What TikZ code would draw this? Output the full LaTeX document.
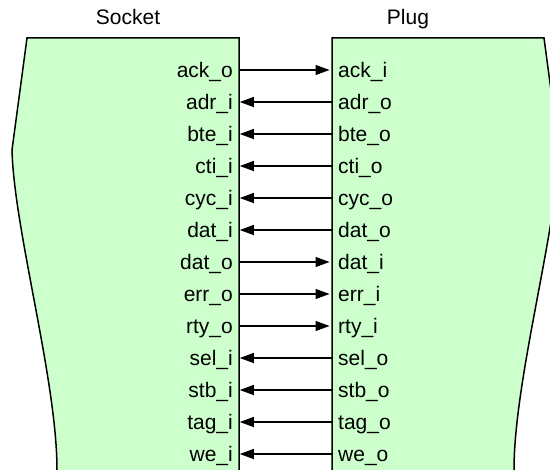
\documentclass[tikz,border=0pt]{standalone}
\usepackage{fontspec}
\setmainfont{Liberation Sans}
\usetikzlibrary{arrows.meta}
\definecolor{boxgreen}{HTML}{CCFFCC}
\begin{document}
\begin{tikzpicture}[x=1pt,y=-1pt,
  boxshape/.style={fill=boxgreen,draw=black,line width=1.5pt,line join=miter},
  sig/.style={font=\fontsize{21}{25}\selectfont,inner ysep=0pt,inner xsep=6pt,text height=16pt,text depth=1pt},
  title/.style={font=\fontsize{21}{25}\selectfont,inner sep=0pt,anchor=base},
  conn/.style={line width=1.2pt,-{Triangle[length=14pt,width=10pt]}}
]
\useasboundingbox (0,0) rectangle (550,470);
\begin{scope}
\clip (0,0) rectangle (550,470);
\draw[boxshape] (239,38) -- (27,38) -- (12,150) .. controls (14,230) and (57,380) .. (57,470) -- (57,471) -- (239,471) -- cycle;
\draw[boxshape] (332,38) -- (544,38) -- (559,150) .. controls (557,230) and (514,380) .. (514,470) -- (514,471) -- (332,471) -- cycle;
\end{scope}
\node[title] (socket) at (128,25) {Socket};
\node[title] (plug) at (408,25) {Plug};
\foreach \i/\l/\r/\dir in {0/ack_o/ack_i/1, 1/adr_i/adr_o/0, 2/bte_i/bte_o/0, 3/cti_i/cti_o/0, 4/cyc_i/cyc_o/0, 5/dat_i/dat_o/0, 6/dat_o/dat_i/1, 7/err_o/err_i/1, 8/rty_o/rty_i/1, 9/sel_i/sel_o/0, 10/stb_i/stb_o/0, 11/tag_i/tag_o/0, 12/we_i/we_o/0} {
  \node[sig,anchor=east] (s\i) at (239,70+32*\i) {\detokenize\expandafter{\l}};
  \node[sig,anchor=west] (p\i) at (332,70+32*\i) {\detokenize\expandafter{\r}};
  \ifnum\dir=1
    \draw[conn,shorten >=2.5pt] (s\i.east) -- (p\i.west);
  \else
    \draw[conn,shorten >=0.8pt] (p\i.west) -- (s\i.east);
  \fi
}
\end{tikzpicture}
\end{document}
